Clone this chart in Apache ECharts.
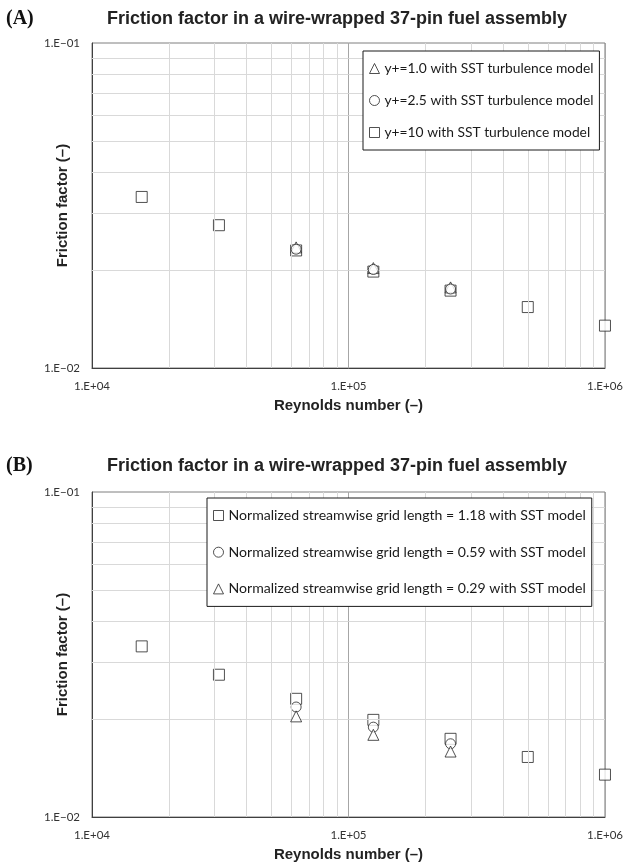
<!DOCTYPE html>
<html>
<head>
<meta charset="utf-8">
<script src="https://cdn.jsdelivr.net/npm/echarts@6/dist/echarts.min.js"></script>
<style>
  html, body { margin: 0; padding: 0; background: #fff; }
  #chart { width: 626px; height: 863px; }
</style>
</head>
<body>
<div id="chart"></div>
<script>
// Reynolds numbers of the simulated cases
const reynolds = [15625, 31250, 62500, 125000, 250000, 500000, 1000000];
const reynoldsMid = [62500, 125000, 250000];

// (A) wall resolution study
const yPlus10 = [0.0336, 0.0275, 0.0230, 0.0198, 0.0173, 0.0154, 0.0135];
const yPlus25 = [0.0232, 0.0201, 0.0175];
const yPlus10Fine = [0.0235, 0.0203, 0.0177];

// (B) streamwise grid study
const grid118 = [0.0335, 0.0274, 0.0231, 0.0199, 0.0174, 0.0153, 0.0135];
const grid059 = [0.0218, 0.0189, 0.0168];
const grid029 = [0.0204, 0.0179, 0.0159];

// Minor grid values (2..9 within each decade)
const minorX = [2e4, 3e4, 4e4, 5e4, 6e4, 7e4, 8e4, 9e4, 2e5, 3e5, 4e5, 5e5, 6e5, 7e5, 8e5, 9e5];
const minorY = [0.02, 0.03, 0.04, 0.05, 0.06, 0.07, 0.08, 0.09];

const titleText = 'Friction factor in a wire-wrapped 37-pin fuel assembly';
const xName = 'Reynolds number (\u2013)';
const yName = 'Friction factor (\u2013)';
const namesA = ['y+=1.0 with SST turbulence model', 'y+=2.5 with SST turbulence model', 'y+=10 with SST turbulence model'];
const namesB = ['Normalized streamwise grid length = 1.18 with SST model',
                'Normalized streamwise grid length = 0.59 with SST model',
                'Normalized streamwise grid length = 0.29 with SST model'];

function sciLabel(v) {
  const e = Math.round(Math.log10(v));
  const sign = e < 0 ? '\u2212' : '+';
  const a = Math.abs(e);
  return '1.E' + sign + (a < 10 ? '0' + a : '' + a);
}

const pairs = (xs, ys) => xs.map((x, i) => [x, ys[i]]);

const tickFont = { fontFamily: 'Lato', fontSize: 11.5, color: '#333' };
const nameFont = { fontFamily: 'Liberation Sans', fontSize: 15, fontWeight: 'bold', color: '#222' };

function makeX(gi) {
  return {
    type: 'log', logBase: 10, gridIndex: gi, min: 1e4, max: 1e6,
    name: xName, nameLocation: 'middle', nameGap: 30, nameMoveOverlap: false, nameTextStyle: nameFont,
    axisLine: { show: true, lineStyle: { color: '#404040', width: 1 } },
    axisTick: { show: false },
    axisLabel: Object.assign({ margin: 12, formatter: sciLabel }, tickFont),
    splitLine: { show: true, lineStyle: { color: '#a6a6a6', width: 1 } },
    minorTick: { show: false }, minorSplitLine: { show: false }
  };
}
function makeY(gi) {
  return {
    type: 'log', logBase: 10, gridIndex: gi, min: 0.01, max: 0.1,
    name: yName, nameLocation: 'middle', nameGap: 22, nameMoveOverlap: false, nameRotate: 90, nameTextStyle: nameFont,
    axisLine: { show: true, lineStyle: { color: '#404040', width: 1 } },
    axisTick: { show: false },
    axisLabel: Object.assign({ margin: 12, formatter: sciLabel }, tickFont),
    splitLine: { show: false }
  };
}

// Light grid lines drawn through the axis scales
function gridSeries(gi) {
  const lines = minorX.map(v => ({ xAxis: v })).concat(minorY.map(v => ({ yAxis: v })));
  return {
    type: 'line', xAxisIndex: gi, yAxisIndex: gi, data: [], z: 1, silent: true,
    markLine: {
      silent: true, symbol: ['none', 'none'], animation: false,
      label: { show: false },
      lineStyle: { color: '#d9d9d9', width: 1, type: 'solid' },
      emphasis: { disabled: true },
      data: lines
    }
  };
}

const markerStyle = { color: '#ffffff', borderColor: '#262626', borderWidth: 1 };
function pts(name, gi, symbol, size, data, z) {
  return {
    name: name, type: 'scatter', xAxisIndex: gi, yAxisIndex: gi,
    symbol: symbol, symbolSize: size, data: data, z: z, clip: false,
    itemStyle: markerStyle, emphasis: { disabled: true }, animation: false
  };
}

const legendBase = {
  orient: 'vertical', backgroundColor: '#fff', borderColor: '#1a1a1a', borderWidth: 1,
  padding: [10, 6, 10, 6], itemWidth: 10, itemHeight: 10,
  selectedMode: false, z: 20,
  itemStyle: { color: '#ffffff', borderColor: '#262626', borderWidth: 1 }
};
const legendText = (size) => ({ fontFamily: 'Lato', fontSize: size, color: '#1a1a1a', lineHeight: 15 });

const panelTitle = (text, top) => ({
  text: text, left: 6, top: top, padding: 0,
  textStyle: { fontFamily: 'Liberation Serif', fontSize: 20, fontWeight: 'bold', color: '#111' }
});
const mainTitle = (top) => ({
  text: titleText, left: 107, top: top, padding: 0,
  textStyle: { fontFamily: 'Liberation Sans', fontSize: 18, fontWeight: 'bold', color: '#222' }
});

const chart = echarts.init(document.getElementById('chart'), null, { renderer: 'canvas' });
chart.setOption({
  animation: false,
  backgroundColor: '#fff',
  title: [panelTitle('(A)', 9), mainTitle(10), panelTitle('(B)', 456), mainTitle(457)],
  grid: [
    { left: 92, top: 43, width: 515, height: 325, show: true, borderColor: '#7f7f7f', borderWidth: 1, backgroundColor: 'transparent' },
    { left: 92, top: 492, width: 515, height: 325, show: true, borderColor: '#7f7f7f', borderWidth: 1, backgroundColor: 'transparent' }
  ],
  xAxis: [makeX(0), makeX(1)],
  yAxis: [makeY(0), makeY(1)],
  legend: [
    Object.assign({}, legendBase, { left: 363, top: 51, itemGap: 17, textStyle: legendText(13.8), data: namesA }),
    Object.assign({}, legendBase, { left: 207, top: 498, itemGap: 21.7, textStyle: legendText(14.1), data: namesB })
  ],
  series: [
    gridSeries(0),
    gridSeries(1),
    pts(namesA[0], 0, 'triangle', 11, pairs(reynoldsMid, yPlus10Fine), 4),
    pts(namesA[1], 0, 'circle', 10, pairs(reynoldsMid, yPlus25), 5),
    pts(namesA[2], 0, 'rect', 11, pairs(reynolds, yPlus10), 3),
    pts(namesB[0], 1, 'rect', 11, pairs(reynolds, grid118), 3),
    pts(namesB[1], 1, 'circle', 10, pairs(reynoldsMid, grid059), 4),
    pts(namesB[2], 1, 'triangle', 11, pairs(reynoldsMid, grid029), 5)
  ]
});
</script>
</body>
</html>
